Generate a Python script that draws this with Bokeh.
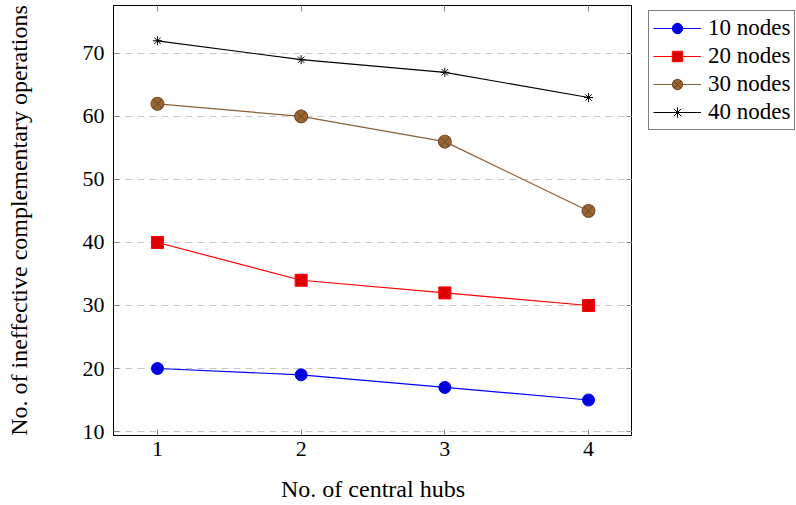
from bokeh.plotting import figure
from bokeh.models import LinearAxis, Legend, LegendItem, FixedTicker
from bokeh.layouts import row
from bokeh.embed import file_html
from bokeh.resources import INLINE

hubs = [1, 2, 3, 4]
nodes10 = [20, 19, 17, 15]
nodes20 = [40, 34, 32, 30]
nodes30 = [62, 60, 56, 45]
nodes40 = [72, 69, 67, 63]
labels = ["10 nodes", "20 nodes", "30 nodes", "40 nodes"]
x_ticks = [1, 2, 3, 4]
y_ticks = [10, 20, 30, 40, 50, 60, 70]

FONT = "Liberation Serif"

p = figure(width=632, height=505, x_range=(0.694, 4.306), y_range=(9.37, 77.6),
           output_backend="svg", toolbar_location=None,
           min_border_left=113, min_border_right=0, min_border_top=5, min_border_bottom=70)

p.outline_line_color = "black"
p.outline_line_width = 1
p.xgrid.grid_line_color = None
p.ygrid.grid_line_color = "#c8c8c8"
p.ygrid.grid_line_dash = "7 5"
p.ygrid.grid_line_width = 1
p.ygrid.ticker = FixedTicker(ticks=y_ticks)

for ax, ticks in ((p.xaxis[0], x_ticks), (p.yaxis[0], y_ticks)):
    ax.ticker = FixedTicker(ticks=ticks)
    ax.major_tick_in = 6
    ax.major_tick_out = 0
    ax.minor_tick_line_color = None
    ax.major_tick_line_color = "#888888"
    ax.axis_line_color = "black"
    ax.major_label_text_font = FONT
    ax.major_label_text_font_size = "22px"
    ax.major_label_text_color = "black"
    ax.axis_label_text_font = FONT
    ax.axis_label_text_font_size = "24px"
    ax.axis_label_text_font_style = "normal"
    ax.axis_label_text_color = "black"

p.xaxis.axis_label = "No. of central hubs"
p.yaxis.axis_label = "No. of ineffective complementary operations"
p.xaxis.major_label_standoff = 6
p.xaxis.axis_label_standoff = 17
p.yaxis.major_label_standoff = 9
p.yaxis.axis_label_standoff = 48

for side, ticks in (("right", y_ticks), ("above", x_ticks)):
    a = LinearAxis(ticker=FixedTicker(ticks=ticks), major_tick_in=6, major_tick_out=0,
                   minor_tick_line_color=None, major_tick_line_color="#888888",
                   axis_line_color="black", major_label_text_font_size="0px",
                   major_label_standoff=0)
    a.major_label_text_color = None
    p.add_layout(a, side)

styles = [
    (nodes10, "#0000ff", "circle", "#0000dd", "#0000ff", 12),
    (nodes20, "#ff0000", "square", "#dd0000", "#ff0000", 12),
    (nodes30, "#8a5f35", "circle_x", "#996633", "#6b4423", 13),
    (nodes40, "black", "asterisk", None, "black", 9),
]

# legend panel: a second figure whose view range holds none of the data,
# so only the legend entries for the same series are visible
q = figure(width=164, height=505, x_range=(-10, -9), y_range=(-10, -9),
           output_backend="svg", toolbar_location=None,
           x_axis_location=None, y_axis_location=None,
           min_border_left=11, min_border_right=0, min_border_top=0, min_border_bottom=0)
q.outline_line_color = None
q.grid.grid_line_color = None

items = []
for (vals, lc, mk, fc, mlc, sz), lab in zip(styles, labels):
    p.line(hubs, vals, line_color=lc, line_width=1.2)
    p.scatter(hubs, vals, marker=mk, size=sz, fill_color=fc, line_color=mlc, line_width=1.0)
    r1 = q.line(hubs, vals, line_color=lc, line_width=1.2)
    r2 = q.scatter(hubs, vals, marker=mk, size=sz, fill_color=fc, line_color=mlc, line_width=1.0)
    items.append(LegendItem(label=lab, renderers=[r1, r2]))

legend = Legend(items=items, location="top_left")
legend.label_text_font = FONT
legend.label_text_font_size = "23px"
legend.label_text_color = "black"
legend.glyph_width = 48
legend.glyph_height = 26
legend.label_height = 26
legend.label_standoff = 7
legend.spacing = 2
legend.padding = 4
legend.margin = 5
legend.border_line_color = "black"
legend.border_line_width = 1
legend.background_fill_alpha = 1
q.add_layout(legend, "center")

layout = row(p, q, spacing=0)
open("out.html", "w").write(file_html(layout, INLINE))
